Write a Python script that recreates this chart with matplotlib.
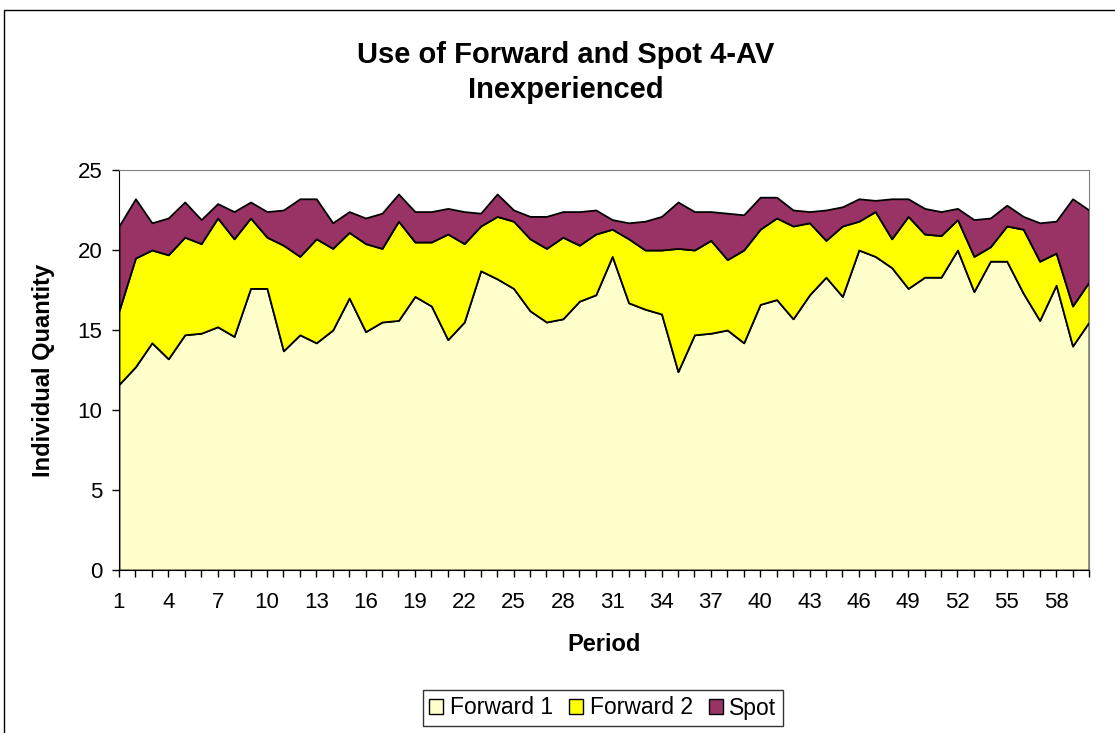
import matplotlib
matplotlib.use('Agg')
import matplotlib.pyplot as plt
from matplotlib.patches import Patch, Rectangle
import numpy as np

plt.rcParams['font.family'] = ['Liberation Sans', 'DejaVu Sans']

# DATA
periods = np.arange(1, 61)
forward_1 = [11.6, 12.7, 14.2, 13.2, 14.7, 14.8, 15.2, 14.6, 17.6, 17.6,
             13.7, 14.7, 14.2, 15.0, 17.0, 14.9, 15.5, 15.6, 17.1, 16.5,
             14.4, 15.5, 18.7, 18.2, 17.6, 16.2, 15.5, 15.7, 16.8, 17.2,
             19.6, 16.7, 16.3, 16.0, 12.4, 14.7, 14.8, 15.0, 14.2, 16.6,
             16.9, 15.7, 17.2, 18.3, 17.1, 20.0, 19.6, 18.9, 17.6, 18.3,
             18.3, 20.0, 17.4, 19.3, 19.3, 17.3, 15.6, 17.8, 14.0, 15.5]
forward_2 = [4.6, 6.8, 5.8, 6.5, 6.1, 5.6, 6.8, 6.1, 4.4, 3.2,
             6.6, 4.9, 6.5, 5.1, 4.1, 5.5, 4.6, 6.2, 3.4, 4.0,
             6.6, 4.9, 2.8, 3.9, 4.2, 4.5, 4.6, 5.1, 3.5, 3.8,
             1.7, 4.0, 3.7, 4.0, 7.7, 5.3, 5.8, 4.4, 5.8, 4.7,
             5.1, 5.8, 4.5, 2.3, 4.4, 1.8, 2.8, 1.8, 4.5, 2.7,
             2.6, 1.9, 2.2, 0.9, 2.2, 4.0, 3.7, 2.0, 2.5, 2.5]
spot = [5.3, 3.7, 1.7, 2.3, 2.2, 1.5, 0.9, 1.7, 1.0, 1.6,
        2.2, 3.6, 2.5, 1.6, 1.3, 1.6, 2.2, 1.7, 1.9, 1.9,
        1.6, 2.0, 0.8, 1.4, 0.7, 1.4, 2.0, 1.6, 2.1, 1.5,
        0.6, 1.0, 1.8, 2.1, 2.9, 2.4, 1.8, 2.9, 2.2, 2.0,
        1.3, 1.0, 0.7, 1.9, 1.2, 1.4, 0.7, 2.5, 1.1, 1.6,
        1.5, 0.7, 2.3, 1.8, 1.3, 0.8, 2.4, 2.0, 6.7, 4.5]
labels = ['Forward 1', 'Forward 2', 'Spot']
colors = ['#FFFFCC', '#FFFF00', '#993366']

# PLOT
fig = plt.figure(figsize=(11.15, 7.33), dpi=100)
# chart area frame (cut off on the right and bottom)
fig.patches.append(Rectangle((4/1115, -0.01), 1.2, 1 - 10/733 + 0.01,
                             transform=fig.transFigure, fill=False,
                             edgecolor='black', linewidth=1.0))
ax = fig.add_axes([119/1115, 1 - 570/733, 970/1115, 400/733])

ax.stackplot(periods, forward_1, forward_2, spot, colors=colors,
             edgecolor='black', linewidth=1.3, labels=labels)

ax.set_xlim(1, 60)
ax.set_ylim(0, 25)
ax.set_yticks(range(0, 26, 5))
ax.set_xticks(periods[::3])
ax.set_xticks(periods, minor=True)
ax.tick_params(axis='both', labelsize=16, direction='out', length=5, width=1)
ax.tick_params(axis='x', which='major', pad=11)
ax.tick_params(axis='y', pad=7)
ax.tick_params(axis='x', which='minor', length=5, width=1)
for side in ['top', 'right']:
	ax.spines[side].set_color('#808080')
ax.spines['left'].set_color('black')
ax.spines['bottom'].set_color('black')

ax.set_xlabel('Period', fontsize=17, fontweight='bold', labelpad=14)
ax.set_ylabel('Individual Quantity', fontsize=17, fontweight='bold', labelpad=16)
fig.text(566/1115, 1 - 55/733, 'Use of Forward and Spot 4-AV',
         ha='center', va='center', fontsize=21, fontweight='bold')
fig.text(566/1115, 1 - 90/733, 'Inexperienced',
         ha='center', va='center', fontsize=21, fontweight='bold')

handles = [Patch(facecolor=c, edgecolor='black', linewidth=1) for c in colors]
leg = fig.legend(handles, labels, loc='center', bbox_to_anchor=(603/1115, 1 - 708/733),
                 ncol=3, fontsize=16.5, frameon=True, fancybox=False,
                 handlelength=0.6, handleheight=0.6, handletextpad=0.3,
                 columnspacing=0.7, borderpad=0.3)
leg.get_frame().set_edgecolor('black')
leg.get_frame().set_linewidth(1.0)

plt.savefig('out.png', dpi=100)
plt.close()
